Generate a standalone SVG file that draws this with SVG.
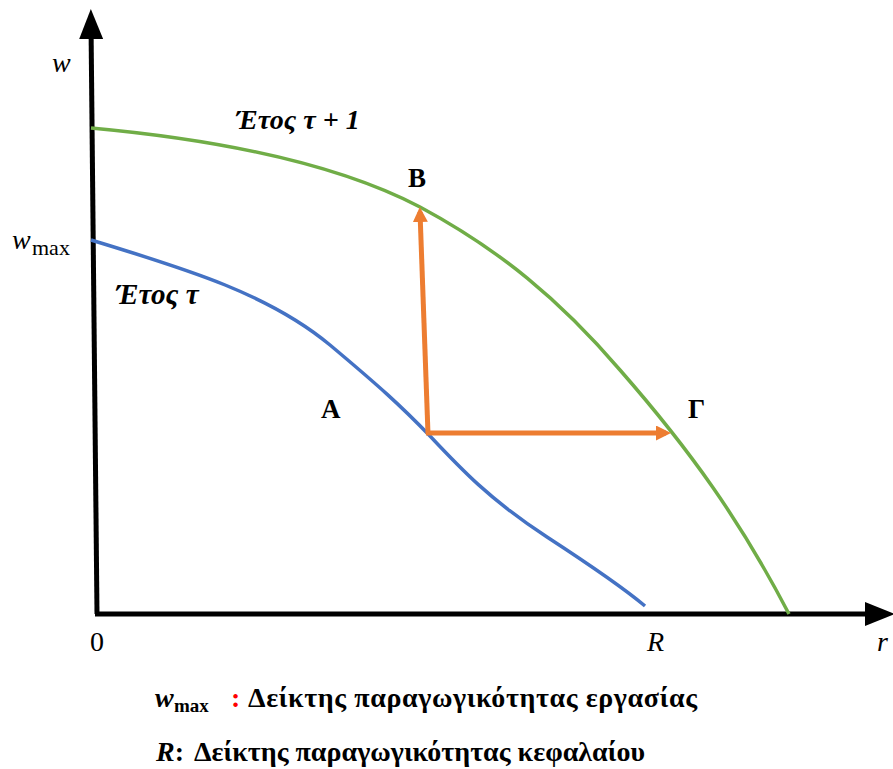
<svg xmlns="http://www.w3.org/2000/svg" width="893" height="769" viewBox="0 0 893 769">
<style>
text{font-family:"Liberation Serif","Times New Roman",serif;fill:#000}
text.red{fill:#FF0000}
.b{font-weight:bold}
.i{font-style:italic}
.ax{stroke:#000;stroke-width:5;fill:none}
.cv{fill:none;stroke-width:3.5;stroke-linecap:butt}
.ar{fill:none;stroke:#ED7D31;stroke-width:5}
</style>
<defs>
<marker id="ak" markerWidth="6" markerHeight="6" refX="3" refY="3" orient="auto" markerUnits="strokeWidth"><path d="M0,0.6 L6,3 L0,5.4 Z" fill="#000"/></marker>
<marker id="ao" markerWidth="3" markerHeight="3" refX="2" refY="1.5" orient="auto" markerUnits="strokeWidth"><path d="M0,0 L3,1.5 L0,3 Z" fill="#ED7D31"/></marker>
</defs>
<rect width="893" height="769" fill="#fff"/>
<g id="axes">
<path class="ax" d="M97,614 L91,24" marker-end="url(#ak)"/>
<path class="ax" d="M95,614 L880,614" marker-end="url(#ak)"/>
</g>
<g id="curve-t1"><path class="cv" stroke="#70AD47" d="M91,128 C200,138 330,160 420,207 C500,250 560,300 620,370 C690,450 740,520 789,614"/></g>
<g id="curve-t"><path class="cv" stroke="#4472C4" d="M91,240 C190,270 270,295 330,345 C380,387 400,405 430,436 C460,468 490,500 547,537 C590,565 620,585 645,606"/></g>
<g id="connectors">
<path class="ar" d="M428,434 L420,212" marker-end="url(#ao)"/>
<path class="ar" d="M426,433 L666,433" marker-end="url(#ao)"/>
</g>
<g id="labels">
<text class="i" x="52" y="72" font-size="28">w</text>
<text class="i" x="12" y="249" font-size="28">w</text>
<text x="32" y="255" font-size="22">max</text>
<text class="b i" x="236" y="129" font-size="28">Έτος τ + 1</text>
<text class="b i" x="116" y="304" font-size="29">Έτος τ</text>
<text class="b" x="408" y="187" font-size="27">Β</text>
<text class="b" x="321" y="418" font-size="27">Α</text>
<text class="b" x="688" y="418" font-size="27">Γ</text>
<text x="90" y="651" font-size="28">0</text>
<text class="i" x="647" y="651" font-size="28">R</text>
<text class="i" x="877" y="651" font-size="28">r</text>
</g>
<g id="legend">
<text class="b i" x="155" y="707" font-size="28">w</text>
<text class="b" x="174" y="712" font-size="19">max</text>
<text class="b red" x="231" y="707" font-size="28">:</text>
<text class="b" x="248" y="707" font-size="28" textLength="449" lengthAdjust="spacing">Δείκτης παραγωγικότητας εργασίας</text>
<text class="b" x="156" y="761" font-size="28"><tspan class="i">R</tspan>:</text>
<text class="b" x="194" y="761" font-size="28" textLength="451" lengthAdjust="spacing">Δείκτης παραγωγικότητας κεφαλαίου</text>
</g>
</svg>
